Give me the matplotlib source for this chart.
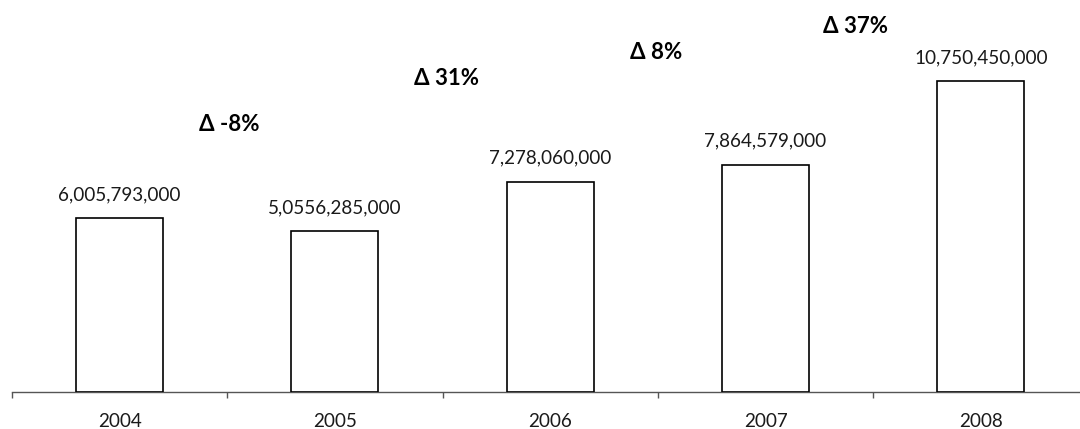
import matplotlib
matplotlib.use("Agg")
import matplotlib.pyplot as plt

# Annual totals
years = ["2004", "2005", "2006", "2007", "2008"]
values = [6005793000, 5556285000, 7278060000, 7864579000, 10750450000]
value_labels = ["6,005,793,000", "5,0556,285,000", "7,278,060,000",
                "7,864,579,000", "10,750,450,000"]

# Year-over-year change (%), placed between consecutive bars
delta_pct = [-8, 31, 8, 37]
delta_x = [0.51, 1.52, 2.49, 3.42]
delta_y = [9.27e9, 10.83e9, 11.73e9, 12.63e9]

plt.rcParams["font.family"] = ["Lato", "DejaVu Sans"]

W, H, DPI = 1080, 429, 100
fig = plt.figure(figsize=(W / DPI, H / DPI), dpi=DPI)
fig.patch.set_facecolor("white")

base_px = 392
left_px = 12
step_px = 215.3
ax = fig.add_axes([left_px / W, (H - base_px) / H,
                   5 * step_px / W, base_px / H])
ax.set_xlim(-0.5, 4.5)
ax.set_ylim(0, 13.56e9)
ax.set_facecolor("none")

x = list(range(len(years)))
ax.bar(x, values, width=0.404, color="white", edgecolor="black",
       linewidth=1.2, zorder=3)

for xi, v, lab in zip(x, values, value_labels):
    ax.annotate(lab, (xi, v), xytext=(0, 13), textcoords="offset points",
                ha="center", va="baseline", fontsize=13.6, color="#1a1a1a")

for dx, dy, pct in zip(delta_x, delta_y, delta_pct):
    ax.text(dx, dy, f"Δ {pct}%", ha="center", va="center",
            fontsize=16, fontweight="bold", color="black")

for s in ["left", "right", "top"]:
    ax.spines[s].set_visible(False)
ax.spines["bottom"].set_color("#555555")
ax.spines["bottom"].set_linewidth(1.0)
ax.set_yticks([])

# Tick marks at category boundaries, labels at category centres
ax.set_xticks([i - 0.5 for i in range(len(years) + 1)])
ax.set_xticklabels([])
ax.tick_params(axis="x", which="major", length=4, width=1.0,
               color="#555555", direction="out")
ax.set_xticks(x, minor=True)
ax.set_xticklabels(years, minor=True)
ax.tick_params(axis="x", which="minor", length=0, pad=15,
               labelsize=13.6, labelcolor="#1a1a1a")

fig.savefig("out.png", dpi=DPI)
